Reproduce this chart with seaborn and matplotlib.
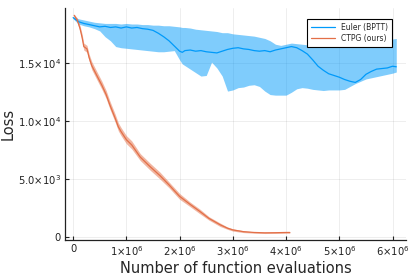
import numpy as np
import pandas as pd
import matplotlib
matplotlib.use('Agg')
import matplotlib.pyplot as plt
import seaborn as sns

# x in millions of function evaluations
euler_x = [0.0, 0.1, 0.2, 0.3, 0.4, 0.5, 0.6, 0.7, 0.8, 0.9, 1.0, 1.1, 1.2, 1.3, 1.4, 1.5,
           1.6, 1.7, 1.8, 1.9, 2.0, 2.05, 2.1, 2.2, 2.3, 2.4, 2.5, 2.6, 2.7, 2.8, 2.9, 3.0,
           3.1, 3.2, 3.3, 3.4, 3.5, 3.6, 3.7, 3.8, 3.9, 4.0, 4.1, 4.2, 4.3, 4.4, 4.5, 4.6,
           4.7, 4.8, 4.9, 5.0, 5.1, 5.2, 5.3, 5.4, 5.5, 5.6, 5.7, 5.8, 5.9, 6.0, 6.07]
euler_mean = [18950, 18600, 18450, 18350, 18250, 18150, 18200, 18100, 18150, 18050, 18150, 18050,
              18100, 18000, 17950, 17850, 17600, 17300, 16950, 16500, 16050, 15950, 16100, 16150,
              16050, 16100, 16000, 15950, 15900, 16050, 16200, 16300, 16350, 16250, 16200, 16100,
              16050, 16100, 16000, 16150, 16250, 16350, 16450, 16350, 16100, 15800, 15300, 14750,
              14400, 14100, 13950, 13800, 13600, 13450, 13350, 13600, 14050, 14300, 14500, 14550,
              14600, 14750, 14700]
euler_hi = [19050, 18850, 18750, 18650, 18550, 18500, 18450, 18450, 18450, 18400, 18450, 18400,
            18400, 18350, 18350, 18300, 18300, 18250, 18250, 18200, 18150, 18100, 18100, 18050,
            17950, 17900, 17850, 17800, 17750, 17650, 17650, 17550, 17500, 17450, 17400, 17350,
            17250, 17150, 16950, 16650, 16550, 16650, 16750, 16700, 16650, 16600, 16600, 16650,
            16700, 16700, 16750, 16700, 16750, 16800, 16800, 16850, 16850, 16900, 16950, 17000,
            17050, 17100, 17150]
euler_lo = [18850, 18400, 18250, 18150, 18000, 17800, 17300, 16950, 16450, 16350, 16300, 16250,
            16200, 16150, 16100, 16050, 16000, 16000, 16050, 16100, 15300, 14950, 14800, 14500,
            14200, 13900, 13950, 15100, 14600, 13900, 12600, 12700, 12900, 12950, 13100, 13150,
            13000, 12600, 12300, 12250, 12250, 12250, 12500, 12800, 12900, 12850, 12750, 12700,
            12650, 12700, 12700, 12700, 12750, 13000, 13250, 13450, 13650, 13750, 13850, 13950,
            14050, 14150, 14250]

ctpg_x = [0.02, 0.08, 0.13, 0.17, 0.20, 0.26, 0.30, 0.35, 0.45, 0.54, 0.62, 0.69, 0.79, 0.85,
          0.90, 1.0, 1.1, 1.26, 1.45, 1.63, 1.8, 2.0, 2.2, 2.38, 2.55, 2.76, 2.9, 3.0, 3.2, 3.4,
          3.6, 3.8, 4.0, 4.07]
ctpg_mean = [19150, 18700, 18000, 17200, 16450, 16250, 15500, 14800, 13900, 13100, 12300, 11400,
             10250, 9500, 9100, 8400, 7950, 6900, 6050, 5300, 4500, 3500, 2800, 2200, 1600, 1050,
             750, 600, 450, 380, 350, 360, 380, 380]
ctpg_spread = [100, 200, 250, 300, 300, 300, 300, 350, 350, 350, 350, 350, 350, 350, 350, 350, 350,
               300, 300, 300, 250, 250, 200, 200, 150, 150, 100, 100, 80, 60, 60, 60, 60, 60]

xticks = [0, 1, 2, 3, 4, 5, 6]
xticklabels = ['0', r'$1{\times}10^{6}$', r'$2{\times}10^{6}$', r'$3{\times}10^{6}$',
               r'$4{\times}10^{6}$', r'$5{\times}10^{6}$', r'$6{\times}10^{6}$']
yticks = [0, 5000, 10000, 15000]
yticklabels = ['0', r'$5.0{\times}10^{3}$', r'$1.0{\times}10^{4}$', r'$1.5{\times}10^{4}$']

blue = '#009AFA'
orange = '#E36F47'

sns.set_style('ticks')
plt.rcParams['font.family'] = ['DejaVu Sans']
plt.rcParams['mathtext.fontset'] = 'dejavusans'
plt.rcParams['mathtext.default'] = 'regular'

fig = plt.figure(figsize=(4.15, 2.77), dpi=100)
ax = fig.add_axes([0.157, 0.134, 0.821, 0.837])

euler = pd.DataFrame({'x': euler_x, 'loss': euler_mean})
ctpg = pd.DataFrame({'x': ctpg_x, 'loss': ctpg_mean})

ax.fill_between(euler_x, euler_lo, euler_hi, color=blue, alpha=0.5, linewidth=0)
lo = np.array(ctpg_mean) - np.array(ctpg_spread)
hi = np.array(ctpg_mean) + np.array(ctpg_spread)
ax.fill_between(ctpg_x, lo, hi, color=orange, alpha=0.5, linewidth=0)

sns.lineplot(data=euler, x='x', y='loss', color=blue, linewidth=0.9, ax=ax, label='Euler (BPTT)')
sns.lineplot(data=ctpg, x='x', y='loss', color=orange, linewidth=0.9, ax=ax, label='CTPG (ours)')

ax.set_xlim(-0.15, 6.25)
ax.set_ylim(-260, 19780)
ax.set_xticks(xticks)
ax.set_xticklabels(xticklabels)
ax.set_yticks(yticks)
ax.set_yticklabels(yticklabels)
ax.tick_params(direction='in', length=3, width=0.8, labelsize=7.2, colors='#222222', pad=3)
ax.grid(True, color='black', alpha=0.08, linewidth=0.6)
for s in ['top', 'right']:
    ax.spines[s].set_visible(False)
for s in ['left', 'bottom']:
    ax.spines[s].set_linewidth(0.9)
    ax.spines[s].set_color('#222222')

ax.set_xlabel('Number of function evaluations', fontsize=10.5, labelpad=2)
ax.set_ylabel('Loss', fontsize=10.5)
ax.yaxis.set_label_coords(-0.145, 0.5)

leg = ax.legend(loc='upper right', bbox_to_anchor=(0.971, 0.97), fontsize=5.5,
                fancybox=False, framealpha=1, edgecolor='black', handlelength=3.2,
                borderpad=0.5, labelspacing=0.3)
leg.get_frame().set_linewidth(0.8)

fig.savefig('out.png', dpi=100)
